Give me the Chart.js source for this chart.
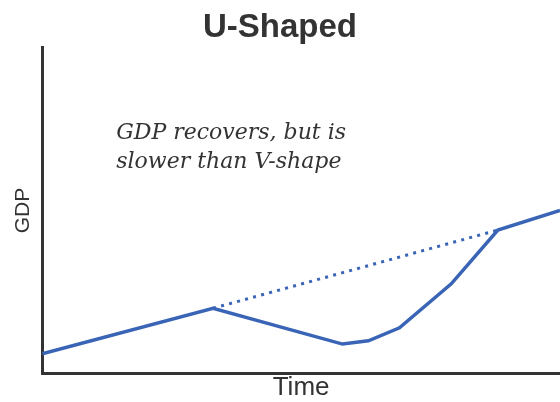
<!DOCTYPE html>
<html lang="en">
<head>
<meta charset="UTF-8" />
<title>U-Shaped</title>
<script src="https://cdn.jsdelivr.net/npm/chart.js@4.4.1/dist/chart.umd.min.js"></script>
<style>
  html, body { margin: 0; padding: 0; background: #fff; }
  #wrap { width: 560px; height: 402px; }
</style>
</head>
<body>
<div id="wrap"><canvas id="chart"></canvas></div>
<script>
// path of GDP over time (arbitrary units)
const time = [0, 33, 58, 63, 69, 79, 88, 100];
const gdp = [6, 20, 9, 10, 14, 27.5, 44, 50];
// dotted trend the economy would have followed
const trendTime = [33, 88];
const trendGdp = [20, 44];
const noteLines = ['GDP recovers, but is', 'slower than V-shape'];

const blue = '#3a64b6';
const dark = '#333333';

const noteText = {
  id: 'noteText',
  afterDatasetsDraw(chart) {
    const { ctx, scales } = chart;
    const x = scales.x.getPixelForValue(14.3);
    const y = scales.y.getPixelForValue(71.9);
    ctx.save();
    ctx.fillStyle = dark;
    ctx.font = 'italic 22px "DejaVu Serif"';
    ctx.textBaseline = 'alphabetic';
    noteLines.forEach((t, i) => ctx.fillText(t, x, y + i * 29));
    ctx.restore();
  }
};

new Chart(document.getElementById('chart'), {
  type: 'line',
  data: {
    datasets: [
      {
        data: time.map((t, i) => ({ x: t, y: gdp[i] })),
        borderColor: blue,
        borderWidth: 3.5,
        pointRadius: 0,
        tension: 0
      },
      {
        data: trendTime.map((t, i) => ({ x: t, y: trendGdp[i] })),
        borderColor: blue,
        borderWidth: 3,
        borderDash: [3, 5.3],
        pointRadius: 0
      }
    ]
  },
  options: {
    responsive: true,
    maintainAspectRatio: false,
    animation: false,
    layout: { padding: 0 },
    plugins: {
      legend: { display: false },
      tooltip: { enabled: false },
      title: {
        display: true,
        text: 'U-Shaped',
        color: dark,
        font: { family: '"Liberation Sans", Arial, sans-serif', size: 33, weight: 'bold' },
        padding: { top: 8, bottom: 0 }
      }
    },
    scales: {
      x: {
        type: 'linear',
        min: 0,
        max: 100,
        grid: { display: false, drawTicks: false },
        border: { display: true, color: dark, width: 3 },
        ticks: { display: false },
        title: {
          display: true,
          text: 'Time',
          color: dark,
          font: { family: '"Liberation Sans", Arial, sans-serif', size: 26, lineHeight: 1.1 },
          padding: { top: 0, bottom: 0 }
        }
      },
      y: {
        min: 0,
        max: 100,
        grid: { display: false, drawTicks: false },
        border: { display: true, color: dark, width: 3 },
        ticks: { display: false },
        title: {
          display: true,
          text: 'GDP',
          color: dark,
          font: { family: '"Liberation Sans", Arial, sans-serif', size: 21 },
          padding: { top: 11, bottom: 6 }
        }
      }
    }
  },
  plugins: [noteText]
});
</script>
</body>
</html>
